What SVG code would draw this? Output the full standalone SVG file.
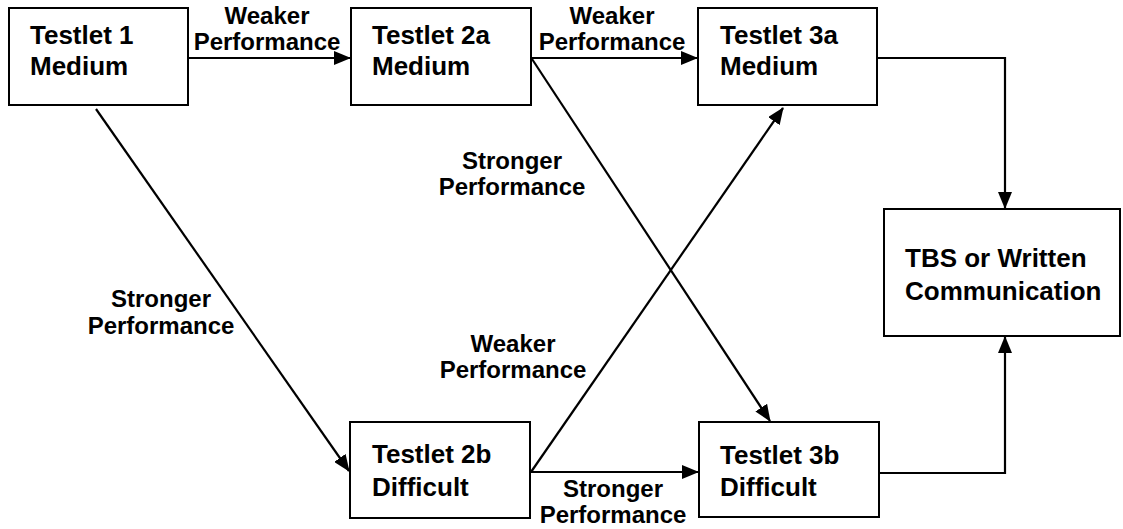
<svg xmlns="http://www.w3.org/2000/svg" width="1123" height="529" viewBox="0 0 1123 529">
<style>
.box{fill:#fff;stroke:#000;stroke-width:2}
.bt{font-family:"Liberation Sans",Arial,sans-serif;font-weight:bold;font-size:26px;fill:#000}
.lb{font-family:"Liberation Sans",Arial,sans-serif;font-weight:bold;font-size:24px;fill:#000;text-anchor:middle}
.cn{fill:none;stroke:#000;stroke-width:2.2;marker-end:url(#ah)}
</style>
<defs>
<marker id="ah" markerUnits="userSpaceOnUse" markerWidth="17" markerHeight="14" refX="16" refY="7" orient="auto">
<path d="M0,0 L17,7 L0,14 Z" fill="#000"/>
</marker>
</defs>
<rect width="1123" height="529" fill="#fff"/>
<g id="connectors">
<path class="cn" d="M188,58 L350,58"/>
<path class="cn" d="M531,58 L697,58"/>
<path class="cn" d="M96,109 L349,471"/>
<path class="cn" d="M532,59 L770,421"/>
<path class="cn" d="M531,472 L783,108"/>
<path class="cn" d="M531,472 L698,472"/>
<path class="cn" d="M877,58 L1005,58 L1005,208"/>
<path class="cn" d="M879,473 L1005,473 L1005,337"/>
</g>
<g id="labels">
<text class="lb" x="267" y="24">Weaker</text>
<text class="lb" x="267" y="50">Performance</text>
<text class="lb" x="612" y="24">Weaker</text>
<text class="lb" x="612" y="50">Performance</text>
<text class="lb" x="512" y="169">Stronger</text>
<text class="lb" x="512" y="195">Performance</text>
<text class="lb" x="161" y="307">Stronger</text>
<text class="lb" x="161" y="334">Performance</text>
<text class="lb" x="513" y="352">Weaker</text>
<text class="lb" x="513" y="378">Performance</text>
<text class="lb" x="613" y="497">Stronger</text>
<text class="lb" x="613" y="523">Performance</text>
</g>
<g id="testlet1">
<rect class="box" x="9" y="8" width="179" height="97"/>
<text class="bt" x="30" y="44">Testlet 1</text>
<text class="bt" x="30" y="75">Medium</text>
</g>
<g id="testlet2a">
<rect class="box" x="351" y="8" width="180" height="97"/>
<text class="bt" x="372" y="44">Testlet 2a</text>
<text class="bt" x="372" y="75">Medium</text>
</g>
<g id="testlet3a">
<rect class="box" x="698" y="8" width="179" height="97"/>
<text class="bt" x="720" y="44">Testlet 3a</text>
<text class="bt" x="720" y="75">Medium</text>
</g>
<g id="testlet2b">
<rect class="box" x="350" y="422" width="180" height="96"/>
<text class="bt" x="372" y="463">Testlet 2b</text>
<text class="bt" x="372" y="496">Difficult</text>
</g>
<g id="testlet3b">
<rect class="box" x="699" y="422" width="180" height="95"/>
<text class="bt" x="720" y="464">Testlet 3b</text>
<text class="bt" x="720" y="496">Difficult</text>
</g>
<g id="tbs">
<rect class="box" x="884" y="209" width="236" height="127"/>
<text class="bt" x="905" y="267">TBS or Written</text>
<text class="bt" x="905" y="300">Communication</text>
</g>
</svg>
